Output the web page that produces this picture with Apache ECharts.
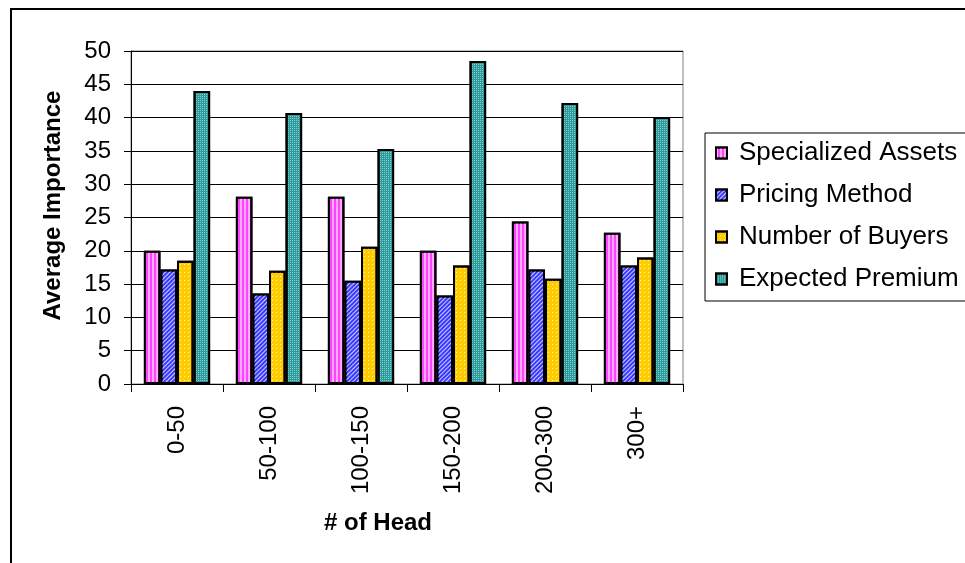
<!DOCTYPE html>
<html>
<head>
<meta charset="utf-8">
<script src="https://cdn.jsdelivr.net/npm/echarts@6/dist/echarts.min.js"></script>
<style>
  html, body { margin: 0; padding: 0; background: #fff; }
  #chart { width: 965px; height: 563px; }
</style>
</head>
<body>
<div id="chart"></div>
<script>
const categories = ['0-50', '50-100', '100-150', '150-200', '200-300', '300+'];
const seriesNames = ['Specialized Assets', 'Pricing Method', 'Number of Buyers', 'Expected Premium'];
const specializedAssets = [20.0, 28.1, 28.1, 20.0, 24.4, 22.7];
const pricingMethod = [17.2, 13.6, 15.5, 13.3, 17.2, 17.8];
const numberOfBuyers = [18.5, 17.0, 20.6, 17.8, 15.8, 19.0];
const expectedPremium = [44.0, 40.7, 35.3, 48.5, 42.2, 40.1];
const yTicks = { min: 0, max: 50, interval: 5 };

const FONT = "'Liberation Sans', Arial, sans-serif";

const styles = [
  { color: '#FF44FF', decal: { symbol: 'rect', symbolSize: 1, symbolKeepAspect: false, color: 'rgba(255,255,255,0.55)', dashArrayX: [2, 2], dashArrayY: [10, 0] } },
  { color: '#3838FF', decal: { symbol: 'rect', symbolSize: 1, symbolKeepAspect: false, color: 'rgba(255,255,255,0.75)', dashArrayX: [10, 0], dashArrayY: [1, 2], rotation: -Math.PI / 4 } },
  { color: '#FFCC00', decal: { symbol: 'rect', symbolSize: 1, symbolKeepAspect: false, color: 'rgba(255,255,255,0.8)', dashArrayX: [1, 3], dashArrayY: [1, 3] } },
  { color: '#2E9A9A', decal: { symbol: 'rect', symbolSize: 1, symbolKeepAspect: false, color: 'rgba(140,215,215,0.9)', dashArrayX: [1, 1], dashArrayY: [1, 1] } }
];
const values = [specializedAssets, pricingMethod, numberOfBuyers, expectedPremium];

const chart = echarts.init(document.getElementById('chart'), null, { renderer: 'canvas' });
chart.setOption({
  animation: false,
  backgroundColor: '#fff',
  graphic: [{
    type: 'rect',
    shape: { x: 11, y: 9, width: 1000, height: 600 },
    style: { fill: 'none', stroke: '#000', lineWidth: 2 },
    silent: true
  }],
  grid: {
    left: 131, top: 51, right: 282, bottom: 179,
    show: true, borderColor: '#808080', borderWidth: 1, backgroundColor: 'transparent'
  },
  legend: {
    orient: 'vertical',
    left: 705, top: 133,
    itemWidth: 11, itemHeight: 11,
    itemGap: 16,
    padding: [7, 30, 9, 10],
    borderColor: '#000', borderWidth: 1,
    icon: 'rect',
    data: seriesNames,
    itemStyle: { borderColor: '#000', borderWidth: 2 },
    textStyle: { fontFamily: FONT, fontSize: 26, color: '#000', lineHeight: 26, padding: [0, 0, 0, 7] }
  },
  xAxis: {
    type: 'category',
    data: categories,
    boundaryGap: true,
    name: '# of Head',
    nameLocation: 'middle',
    nameGap: 127,
    nameTextStyle: { fontFamily: FONT, fontSize: 24, fontWeight: 'bold', color: '#000', padding: [0, 58, 0, 0] },
    axisLine: { lineStyle: { color: '#000', width: 1 } },
    axisTick: { show: true, length: 8, lineStyle: { color: '#000' } },
    axisLabel: { rotate: 90, margin: 22, fontFamily: FONT, fontSize: 24, color: '#000' },
    splitLine: { show: false }
  },
  yAxis: {
    type: 'value',
    min: yTicks.min, max: yTicks.max, interval: yTicks.interval,
    name: 'Average Importance',
    nameLocation: 'middle',
    nameGap: 66,
    nameTextStyle: { fontFamily: FONT, fontSize: 24, fontWeight: 'bold', color: '#000', padding: [0, 0, 0, 24] },
    axisLine: { show: true, lineStyle: { color: '#000', width: 1 } },
    axisTick: { show: true, length: 7, lineStyle: { color: '#000' } },
    axisLabel: { margin: 20, fontFamily: FONT, fontSize: 24, color: '#000' },
    splitLine: { show: true, lineStyle: { color: '#000', width: 1 } }
  },
  series: seriesNames.map((name, i) => ({
    name: name,
    type: 'bar',
    data: values[i],
    barGap: '0%',
    barCategoryGap: '28%',
    itemStyle: { color: styles[i].color, borderColor: '#000', borderWidth: 2, decal: styles[i].decal }
  }))
});
</script>
</body>
</html>
